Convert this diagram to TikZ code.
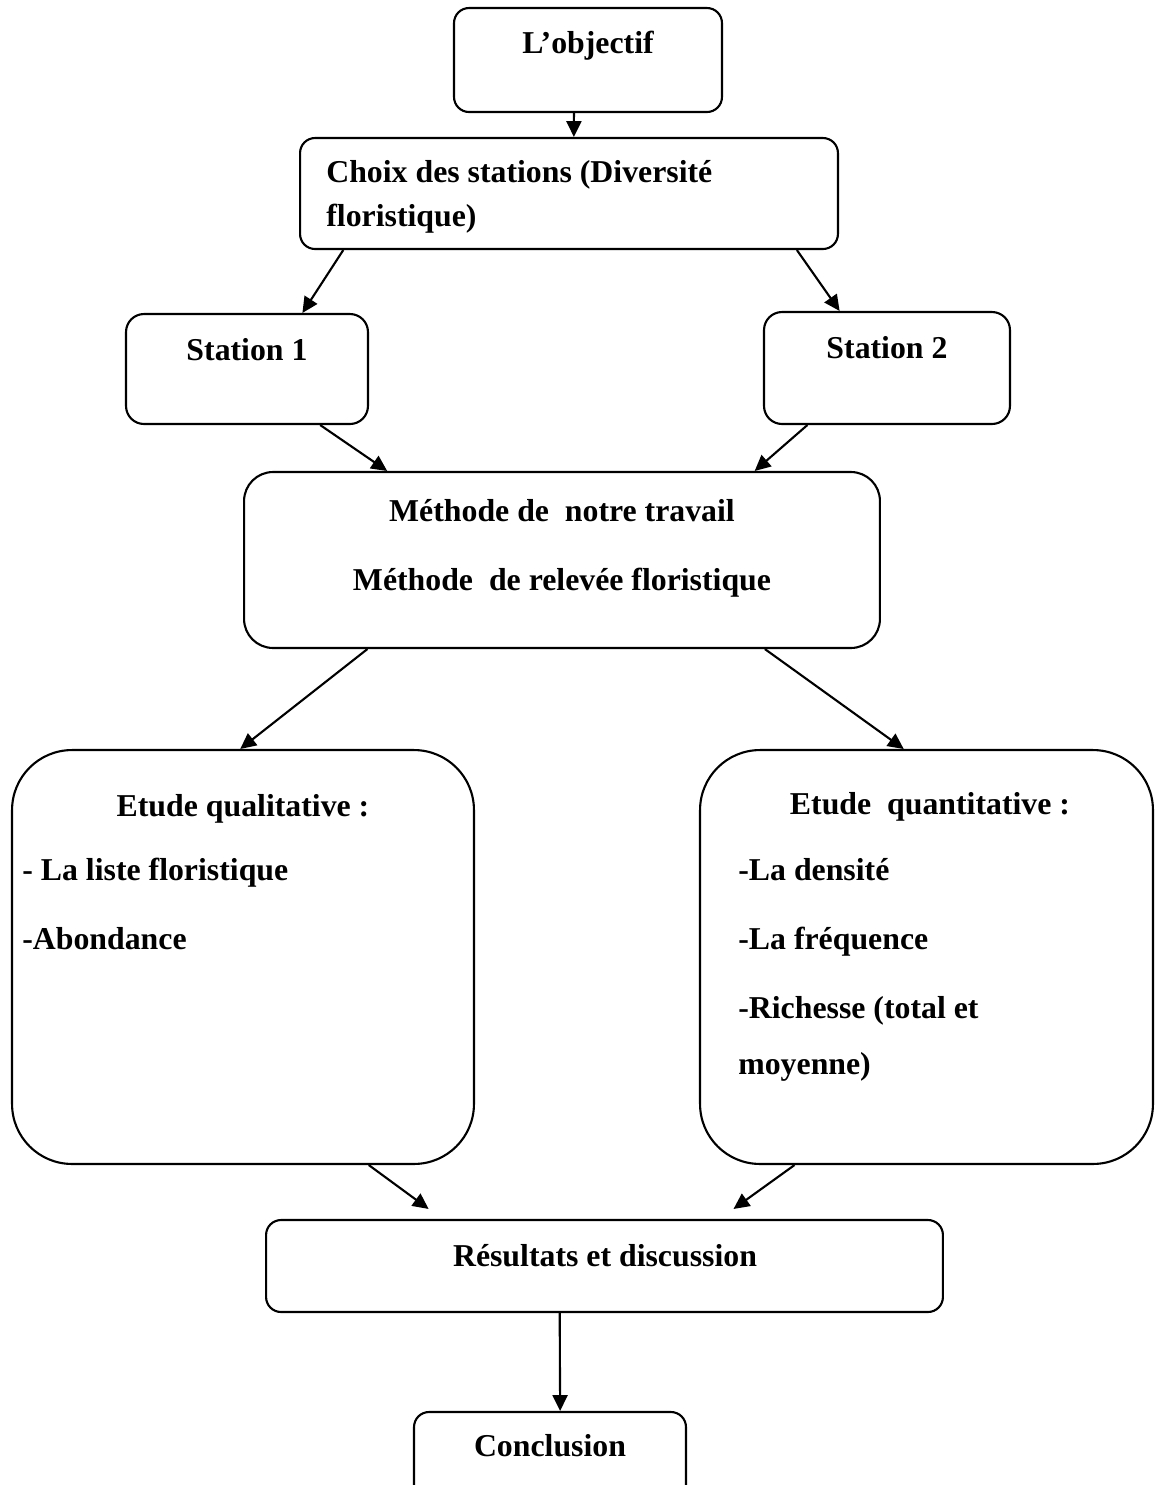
\documentclass[tikz,border=0pt]{standalone}
\usepackage{fontspec}
\setmainfont{Liberation Serif}
\usetikzlibrary{arrows.meta,calc}
\begin{document}
\begin{tikzpicture}[x=0.02cm,y=-0.02cm,
  box/.style={draw, line width=1.2pt, rounded corners=#1, inner sep=0pt},
  box/.default=0.3cm,
  lbl/.style={font=\fontsize{18.1}{22}\selectfont\bfseries, inner sep=0pt, anchor=base},
  lbll/.style={lbl, anchor=base west},
  arr/.style={line width=1.2pt, -{Triangle[length=9pt,width=8.5pt]}}]
\clip (0,0) rectangle (1155,1485);
\fill[white] (0,0) rectangle (1155,1485);

% boxes
\node[box=0.3cm, minimum width=5.36cm, minimum height=2.08cm] (obj) at (588,60) {};
\node[box=0.3cm, minimum width=10.76cm, minimum height=2.22cm] (choix) at (569,193.5) {};
\node[box=0.36cm, minimum width=4.84cm, minimum height=2.2cm] (st1) at (247,369) {};
\node[box=0.36cm, minimum width=4.92cm, minimum height=2.24cm] (st2) at (887,368) {};
\node[box=0.58cm, minimum width=12.72cm, minimum height=3.52cm] (meth) at (562,560) {};
\node[box=1.2cm, minimum width=9.24cm, minimum height=8.28cm] (qual) at (243,957) {};
\node[box=1.2cm, minimum width=9.06cm, minimum height=8.28cm] (quant) at (926.5,957) {};
\node[box=0.3cm, minimum width=13.54cm, minimum height=1.84cm] (res) at (604.5,1266) {};
\node[box=0.3cm, minimum width=5.44cm, minimum height=2.2cm] (concl) at (550,1467) {};

% texts
\node[lbl] (tobj) at (588,53) {L’objectif};
\node[lbll] (tchoixa) at (326,182) {Choix des stations (Diversité};
\node[lbll] (tchoixb) at (326,226) {floristique)};
\node[lbl] (tst1) at (247,360) {Station 1};
\node[lbl] (tst2) at (887,358) {Station 2};
\node[lbl] (tmetha) at (562,521) {Méthode de\ \ notre travail};
\node[lbl] (tmethb) at (562,590) {Méthode\ \ de relevée floristique};
\node[lbl] (tquala) at (243,816) {Etude qualitative :};
\node[lbll] (tqualb) at (22,880) {- La liste floristique};
\node[lbll] (tqualc) at (22,949) {-Abondance};
\node[lbl] (tquanta) at (930,814) {Etude\ \ quantitative :};
\node[lbll] (tquantb) at (738,880) {-La densité};
\node[lbll] (tquantc) at (738,949) {-La fréquence};
\node[lbll] (tquantd) at (738,1018) {-Richesse (total et};
\node[lbll] (tquante) at (738,1074) {moyenne)};
\node[lbl] (tres) at (605,1266) {Résultats et discussion};
\node[lbl] (tconcl) at (550,1456) {Conclusion};

% connectors
\draw[arr] ($(obj.south west)!0.448!(obj.south east)$) -- ($(choix.north west)!0.509!(choix.north east)$);
\draw[arr] ($(choix.south west)!0.082!(choix.south east)$) -- ($(st1.north west)!0.727!(st1.north east)$);
\draw[arr] ($(choix.south west)!0.922!(choix.south east)$) -- ($(st2.north west)!0.309!(st2.north east)$);
\draw[arr] ($(st1.south west)!0.80!(st1.south east)$) -- ($(meth.north west)!0.226!(meth.north east)$);
\draw[arr] ($(st2.south west)!0.179!(st2.south east)$) -- ($(meth.north west)!0.802!(meth.north east)$);
\draw[arr] ($(meth.south west)!0.195!(meth.south east)$) -- ($(qual.north west)!0.494!(qual.north east)$);
\draw[arr] ($(meth.south west)!0.818!(meth.south east)$) -- ($(quant.north west)!0.45!(quant.north east)$);
\draw[arr] ($(qual.south west)!0.771!(qual.south east)$) -- ($(res.north west)!0.241!(res.north east)+(0,-10)$);
\draw[arr] ($(quant.south west)!0.21!(quant.south east)$) -- ($(res.north west)!0.69!(res.north east)+(0,-10)$);
\draw[arr] ($(res.south west)!0.434!(res.south east)$) -- ($(concl.north west)!0.537!(concl.north east)$);
\end{tikzpicture}
\end{document}
